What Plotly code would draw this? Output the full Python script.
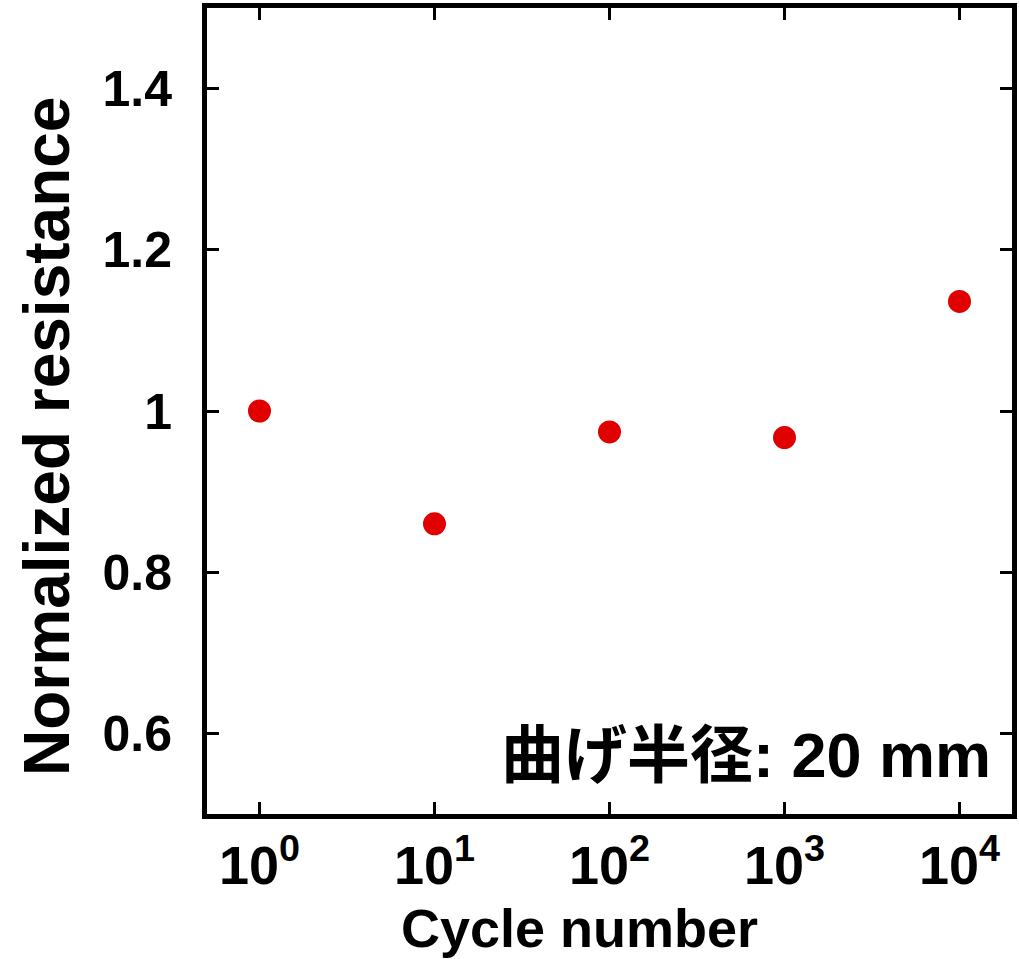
import plotly.graph_objects as go

cycles = [1, 10, 100, 1000, 10000]
resistance = [1.0, 0.860, 0.974, 0.967, 1.136]
x_tickvals = [1, 10, 100, 1000, 10000]
x_ticktext = ["10<sup>0</sup>", "10<sup>1</sup>", "10<sup>2</sup>", "10<sup>3</sup>", "10<sup>4</sup>"]
y_tickvals = [0.6, 0.8, 1.0, 1.2, 1.4]
y_ticktext = ["0.6", "0.8", "1", "1.2", "1.4"]

FONT = "Liberation Sans, Arial, sans-serif"

fig = go.Figure()
fig.add_trace(go.Scatter(
    x=cycles, y=resistance, mode="markers",
    marker=dict(size=23, color="#e00000", line=dict(width=0)),
    showlegend=False,
))

axis_common = dict(
    showline=True, linewidth=5, linecolor="black", mirror="ticks",
    ticks="inside", ticklen=12, tickwidth=3, tickcolor="black",
    showgrid=False, zeroline=False, automargin=False,
)

fig.update_xaxes(
    type="log", range=[-0.3, 4.3],
    tickvals=x_tickvals, ticktext=x_ticktext,
    tickfont=dict(family=FONT, size=54, color="black", weight="bold"),
    ticklabelstandoff=0,
    **axis_common,
)
fig.update_yaxes(
    range=[0.5, 1.5],
    tickvals=y_tickvals, ticktext=y_ticktext,
    tickfont=dict(family=FONT, size=50, color="black", weight="bold"),
    ticklabelstandoff=20,
    **axis_common,
)

# axis titles
fig.add_annotation(
    x=-0.1985, y=0.468, xref="paper", yref="paper", xanchor="center", yanchor="middle",
    text="Normalized resistance", textangle=-90, showarrow=False,
    font=dict(family=FONT, size=64, color="black", weight="bold"),
)
fig.add_annotation(
    x=0.463, y=-0.1414, xref="paper", yref="paper", xanchor="center", yanchor="middle",
    text="Cycle number", showarrow=False,
    font=dict(family=FONT, size=54, color="black", weight="bold"),
)

fig.add_annotation(
    x=0.977, y=0.073, xref="paper", yref="paper", xanchor="right", yanchor="middle",
    text="曲げ半径: 20 mm", showarrow=False,
    font=dict(family="Liberation Sans, Noto Sans CJK JP, sans-serif", size=63, color="black", weight="bold"),
)

fig.update_layout(
    width=1019, height=959,
    margin=dict(l=207, r=7, t=8, b=145),
    paper_bgcolor="white", plot_bgcolor="white",
)

fig.write_html(
    "out.html",
    config={"displayModeBar": False},
    post_script="document.body.style.margin='0';document.body.style.overflow='hidden';",
)
